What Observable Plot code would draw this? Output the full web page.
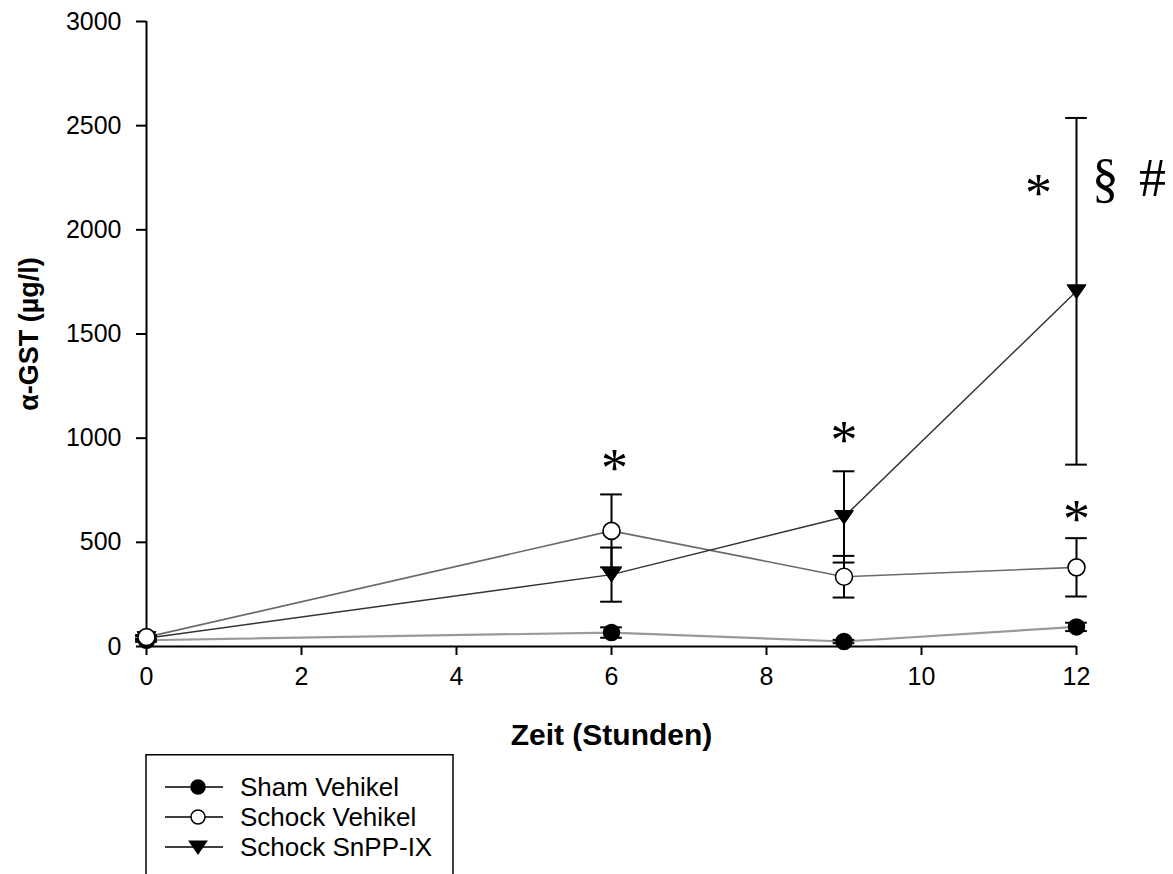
<!DOCTYPE html>
<html><head><meta charset="utf-8">
<script src="https://cdn.jsdelivr.net/npm/d3@7"></script>
<script src="https://cdn.jsdelivr.net/npm/@observablehq/plot@0.6"></script>
<style>
html,body{margin:0;padding:0;background:#fff;overflow:hidden;}
#wrap{width:1173px;height:874px;overflow:hidden;}
#chart svg{display:block;}
#chart [aria-label="y-axis label"] text{font-weight:bold;font-size:27px;}
#chart [aria-label="x-axis label"] text{font-weight:bold;font-size:30px;}
</style></head><body><div id="wrap"><div id="chart"></div><div id="legend"></div></div>
<script>
// ---- data ----
const hours = [0, 6, 9, 12];
const seriesNames = ["Sham Vehikel", "Schock Vehikel", "Schock SnPP-IX"];
const shamMean = [30, 67, 24, 94];
const shamSem = [8, 25, 8, 20];
const schockMean = [45, 555, 335, 380];
const schockSem = [10, 175, 100, 140];
const snppMean = [40, 345, 622, 1705];
const snppSem = [10, 130, 219, 832];
const yTicks = [0, 500, 1000, 1500, 2000, 2500, 3000];
const xTicks = [0, 2, 4, 6, 8, 10, 12];
const starMarks = [
  {t: 6.04, v: 902, label: "*"},
  {t: 9.0, v: 1037, label: "*"},
  {t: 11.51, v: 2222, label: "*"},
  {t: 12.0, v: 658, label: "*"}
];
const otherMarks = [
  {t: 12.37, v: 2232, label: "§"},
  {t: 12.98, v: 2232, label: "#"}
];

// ---- build table ----
const means = [shamMean, schockMean, snppMean];
const sems = [shamSem, schockSem, snppSem];
const rows = [];
seriesNames.forEach((s, i) => hours.forEach((h, j) => rows.push({series: s, t: h, v: means[i][j], e: sems[i][j]})));
const bySeries = s => rows.filter(r => r.series === s);

const triangleDown = {
  draw(context, size) {
    const r = Math.sqrt(size / Math.PI);
    context.moveTo(-r, -0.68 * r);
    context.lineTo(r, -0.68 * r);
    context.lineTo(0, 0.78 * r);
    context.closePath();
  }
};

const capHalf = 0.14;
const errMarks = s => [
  Plot.ruleX(bySeries(s), {x: "t", y1: d => d.v - d.e, y2: d => d.v + d.e, stroke: "#000", strokeWidth: 2}),
  Plot.ruleY(bySeries(s), {y: d => d.v + d.e, x1: d => d.t - capHalf, x2: d => d.t + capHalf, stroke: "#000", strokeWidth: 2}),
  Plot.ruleY(bySeries(s), {y: d => d.v - d.e, x1: d => d.t - capHalf, x2: d => d.t + capHalf, stroke: "#000", strokeWidth: 2})
];

const chart = Plot.plot({
  width: 1173,
  height: 754,
  marginLeft: 146,
  marginRight: 97,
  marginTop: 21,
  marginBottom: 108,
  x: {domain: [0, 12]},
  y: {domain: [0, 3000]},
  style: {fontFamily: "'Liberation Sans', Arial, sans-serif", fontSize: "25px", color: "#000", background: "#fff", overflow: "visible"},
  marks: [
    Plot.axisY({ticks: yTicks, tickSize: 10, tickPadding: 15, tickFormat: d => `${d}`, strokeWidth: 2,
      label: "α-GST (µg/l)", labelAnchor: "center", labelArrow: "none", labelOffset: 128}),
    Plot.axisX({ticks: xTicks, tickSize: 9, tickPadding: 12, tickFormat: d => `${d}`, strokeWidth: 2,
      label: "Zeit (Stunden)", labelAnchor: "center", labelArrow: "none", labelOffset: 98}),
    Plot.ruleX([0], {y1: 0, y2: 3000, stroke: "#000", strokeWidth: 2}),
    Plot.ruleY([0], {x1: 0, x2: 12, stroke: "#000", strokeWidth: 2}),
    Plot.line(bySeries(seriesNames[0]), {x: "t", y: "v", stroke: "#9a9a9a", strokeWidth: 2.2}),
    Plot.line(bySeries(seriesNames[1]), {x: "t", y: "v", stroke: "#6a6a6a", strokeWidth: 1.6}),
    Plot.line(bySeries(seriesNames[2]), {x: "t", y: "v", stroke: "#333", strokeWidth: 1.5}),
    ...errMarks(seriesNames[0]),
    ...errMarks(seriesNames[1]),
    ...errMarks(seriesNames[2]),
    Plot.dot(bySeries(seriesNames[0]), {x: "t", y: "v", r: 8, fill: "#000", stroke: "#000"}),
    Plot.dot(bySeries(seriesNames[2]), {x: "t", y: "v", r: 9.5, symbol: triangleDown, fill: "#000", stroke: "#000", strokeWidth: 1}),
    Plot.dot(bySeries(seriesNames[1]), {x: "t", y: "v", r: 8.5, fill: "#fff", stroke: "#000", strokeWidth: 1.6}),
    Plot.text(starMarks, {x: "t", y: "v", text: "label", fontFamily: "'Liberation Serif', 'Times New Roman', serif", fontSize: 54, dy: 10, fill: "#000"}),
    Plot.text(otherMarks, {x: "t", y: "v", text: "label", fontFamily: "'Liberation Serif', 'Times New Roman', serif", fontSize: 54, dy: -3, fill: "#000"})
  ]
});
document.getElementById("chart").appendChild(chart);

// ---- legend (below the chart SVG) ----
const lw = 1173, lh = 120;
const leg = d3.select("#legend").append("svg").attr("width", lw).attr("height", lh).style("display", "block");
leg.append("rect").attr("x", 146).attr("y", 0.75).attr("width", 307).attr("height", 160)
  .attr("fill", "none").attr("stroke", "#000").attr("stroke-width", 1.5);
const legendStyles = [
  {fill: "#000", sym: d3.symbolCircle, r: 7},
  {fill: "#fff", sym: d3.symbolCircle, r: 7},
  {fill: "#000", sym: triangleDown, r: 8.5}
];
seriesNames.forEach((name, i) => {
  const cy = 33 + 30 * i;
  const g = leg.append("g");
  g.append("line").attr("x1", 165).attr("x2", 223).attr("y1", cy).attr("y2", cy).attr("stroke", "#000").attr("stroke-width", 1.6);
  const st = legendStyles[i];
  g.append("path").attr("d", d3.symbol(st.sym, Math.PI * st.r * st.r)())
    .attr("transform", `translate(198,${cy})`).attr("fill", st.fill).attr("stroke", "#000").attr("stroke-width", 1.5);
  g.append("text").attr("x", 240).attr("y", cy).attr("dy", "0.35em")
    .attr("font-family", "'Liberation Sans', Arial, sans-serif").attr("font-size", 26).attr("fill", "#000").text(name);
});
</script>
</body></html>
